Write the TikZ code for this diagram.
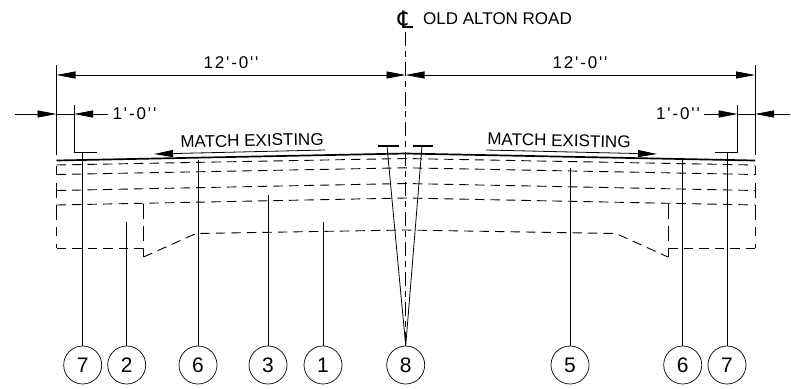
\documentclass[tikz,border=0pt]{standalone}
\usepackage{fontspec}
\setmainfont[Ligatures=TeXOff]{Liberation Sans}
\newfontfamily\clfont{DejaVu Sans}
\usetikzlibrary{arrows.meta,calc,positioning}
\tikzset{
  dimline/.style={line width=0.8pt,{Triangle[length=19pt,width=7pt]}-{Triangle[length=19pt,width=7pt]}},
  dimarrow/.style={line width=0.8pt,-{Triangle[length=19pt,width=7pt]}},
  extline/.style={line width=0.8pt},
  leader/.style={line width=0.8pt},
  tee/.style={line width=1.5pt},
  layer/.style={line width=0.9pt,dash pattern=on 9.5pt off 6pt},
  sidedash/.style={line width=0.8pt,dash pattern=on 15pt off 7pt},
  balloon/.style={draw,circle,line width=0.7pt,minimum size=38pt,inner sep=0pt,font=\fontsize{21}{21}\selectfont},
  cadtext/.style={inner sep=0pt,font=\fontsize{17}{17}\selectfont},
  dimtext/.style={inner sep=0pt,font=\fontsize{17}{17}\selectfont\addfontfeature{LetterSpace=11}}
}
\begin{document}
\begin{tikzpicture}[x=1pt,y=-1pt]
\useasboundingbox (0,0) rectangle (791,388);
% roadway edges and centerline
\coordinate (L) at (56.5,160.5);
\coordinate (C) at (405.5,153.5);
\coordinate (R) at (755,160.5);
\draw[line width=1.7pt] (L) -- (C) -- (R);
\draw[line width=0.7pt,dash pattern=on 14pt off 5pt on 6pt off 5pt] (405.5,32) -- (405.5,346);
% layer lines
\draw[layer] (56.5,165) -- (405.5,158.5) -- (755,165);
\draw[layer] (56.5,174.5) -- (405.5,167.8) -- (755,174.5);
\draw[layer] (56.5,190.5) -- (405.5,183.5) -- (755,190.5);
\draw[layer] (56.5,205) -- (405.5,198) -- (755,205);
\draw[layer] (143.5,257) -- (196,233.5) -- (405.5,230) -- (616,233.5) -- (668,257);
\draw[layer] (143.5,248) -- (56.5,248);
\draw[layer] (668,248) -- (755,248);
\draw[sidedash] (143.5,203.5) -- (143.5,257);
\draw[sidedash] (668,203.5) -- (668,257);
\draw[sidedash,dash pattern=on 9pt off 8pt on 15pt off 7pt on 15pt off 7pt] (56.5,166) -- (56.5,248);
\draw[sidedash,dash pattern=on 9pt off 8pt on 15pt off 7pt on 15pt off 7pt] (755,166) -- (755,248);
% dimensions
\coordinate (A) at (56.5,75);
\coordinate (B) at (405.5,75);
\coordinate (D) at (755,75);
\draw[extline] (56.5,65) -- (56.5,155);
\draw[extline] (755,65) -- (755,155);
\draw[dimline] (A) -- (B);
\draw[dimline] (B) -- (D);
\node[dimtext] (dimL) at (231,62.5) {12'-0''};
\node[dimtext] (dimR) at (580,62.5) {12'-0''};
\node[cadtext,anchor=west] (clname) at (423,19) {OLD ALTON ROAD};
\node[inner sep=0pt,font=\clfont\fontsize{24}{24}\selectfont] (clsym) at (405.5,20) {℄};
% shoulder offsets
\coordinate (S1) at (15,114);
\coordinate (S2) at (56.5,114);
\coordinate (S3) at (108,114);
\coordinate (S4) at (74,114);
\coordinate (S5) at (704,114);
\coordinate (S6) at (737.7,114);
\coordinate (S7) at (790,114);
\coordinate (S8) at (755,114);
\draw[dimarrow] (S1) -- (S2);
\draw[dimarrow] (S3) -- (S4);
\draw[dimarrow] (S5) -- (S6);
\draw[dimarrow] (S7) -- (S8);
\draw[extline] (S2) -- (S4);
\draw[extline] (S6) -- (S8);
\draw[extline] (74,105) -- (74,151.5);
\draw[extline] (737.7,105) -- (737.7,152);
\node[dimtext] (offL) at (134.5,114) {1'-0''};
\node[dimtext] (offR) at (678,114) {1'-0''};
% match existing
\node[cadtext,rotate=1.2] (matchL) at (252,140.5) {MATCH EXISTING};
\node[cadtext,rotate=-1.2] (matchR) at (559,140.5) {MATCH EXISTING};
\coordinate (M1) at (325,150);
\coordinate (M2) at (154,154);
\coordinate (M3) at (486,150);
\coordinate (M4) at (657,154);
\draw[dimarrow] (M1) -- (M2);
\draw[dimarrow] (M3) -- (M4);
% tees
\coordinate (T1) at (83,152.5);
\coordinate (T2) at (727,152.5);
\coordinate (T3) at (387,146);
\coordinate (T4) at (422,146);
\draw[tee] (74,152.5) -- (97,152.5);
\draw[tee] (715,152.5) -- (737.7,152.5);
\draw[tee] (378,146) -- (399,146);
\draw[tee] (412.7,146) -- (433,146);
% balloons and leaders
\node[balloon] (n7a) at (82.7,365) {7};
\node[balloon] (n2) at (126.7,365) {2};
\node[balloon] (n6a) at (198,365) {6};
\node[balloon] (n3) at (268,365) {3};
\node[balloon] (n1) at (323,365) {1};
\node[balloon] (n8) at (405.7,365) {8};
\node[balloon] (n5) at (570,365) {5};
\node[balloon] (n6b) at (682.7,365) {6};
\node[balloon] (n7b) at (727,365) {7};
\draw[leader] (n7a) -- (T1 -| n7a);
\draw[leader] (n2) -- (126.7,222);
\draw[leader] (n6a) -- (198,160);
\draw[leader] (n3) -- (268,194.5);
\draw[leader] (n1) -- (323,222);
\draw[leader] (n5) -- (570,168);
\draw[leader] (n6b) -- (682.7,160);
\draw[leader] (n7b) -- (T2 -| n7b);
\draw[leader] (n8.north) -- (T3);
\draw[leader] (n8.north) -- (T4);
\end{tikzpicture}
\end{document}
